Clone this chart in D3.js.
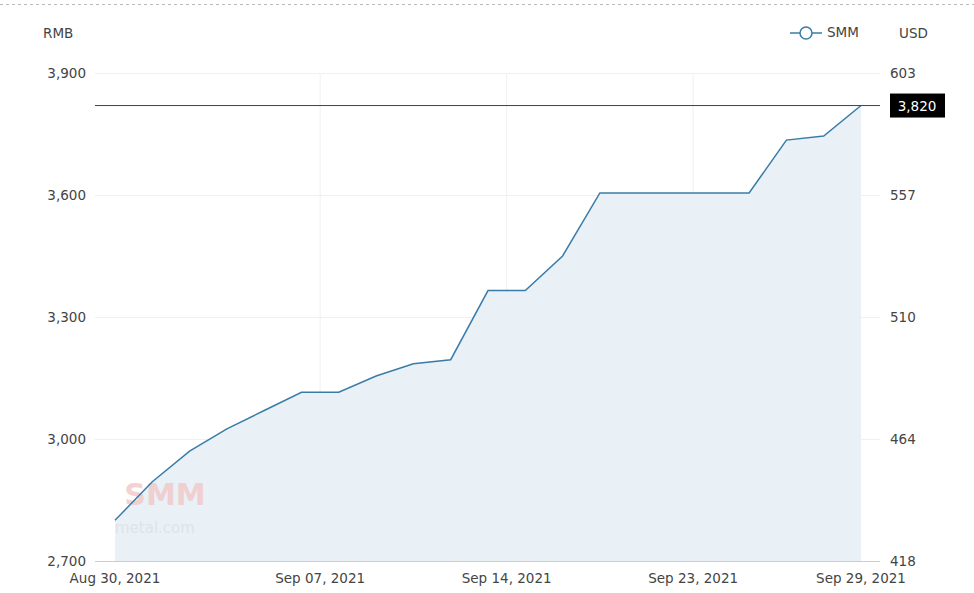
<!DOCTYPE html><html><head><meta charset="utf-8">
<script src="https://cdn.jsdelivr.net/npm/d3@7"></script>
<style>body{margin:0;background:#fff}text{font-family:"DejaVu Sans",sans-serif}</style></head><body>
<svg id="c" width="974" height="593"></svg>
<script>
const dates=["Aug 30","Aug 31","Sep 01","Sep 02","Sep 03","Sep 06","Sep 07","Sep 08","Sep 09","Sep 10","Sep 13","Sep 14","Sep 15","Sep 16","Sep 17","Sep 22","Sep 23","Sep 24","Sep 27","Sep 28","Sep 29"];
const values=[2800,2895,2970,3025,3070,3115,3115,3155,3185,3195,3365,3365,3450,3605,3605,3605,3605,3605,3735,3745,3820];
const xTickPos=[0,5.5,10.5,15.5,20];
const xTickLabels=["Aug 30, 2021","Sep 07, 2021","Sep 14, 2021","Sep 23, 2021","Sep 29, 2021"];
const leftTicks=[2700,3000,3300,3600,3900];
const rightTickLabels=["418","464","510","557","603"];
const lastValue=3820;
const svg=d3.select("#c");
const L=95,R=880,T=73,B=561;
const fs=13.5;
const x=d3.scaleLinear().domain([0,dates.length-1]).range([115,861]);
const y=d3.scaleLinear().domain([2700,3900]).range([B,T]);
svg.append("line").attr("x1",0).attr("x2",974).attr("y1",4.5).attr("y2",4.5).attr("stroke","#bbb").attr("stroke-dasharray","3,3");
svg.selectAll(".hg").data(leftTicks).join("line").attr("x1",L).attr("x2",R).attr("y1",d=>y(d)+.5).attr("y2",d=>y(d)+.5).attr("stroke","#f0f0f0");
svg.selectAll(".vg").data(xTickPos.slice(1,4)).join("line").attr("x1",d=>x(d)).attr("x2",d=>x(d)).attr("y1",T).attr("y2",B).attr("stroke","#f0f0f0");
svg.append("line").attr("x1",L).attr("x2",R).attr("y1",B+.5).attr("y2",B+.5).attr("stroke","#ccc");
const pts=values.map((v,i)=>[x(i),y(v)]);
svg.append("path").attr("d",d3.area().x(d=>d[0]).y0(B).y1(d=>d[1])(pts)).attr("fill","#e9f1f6");
svg.append("text").attr("x",x(0.25)).attr("y",y(2838)).attr("font-size",30).attr("font-weight","bold").attr("fill","#f2c4c4").attr("opacity",.75).text("SMM");
svg.append("text").attr("x",x(0)).attr("y",y(2770)).attr("font-size",15).attr("fill","#dde4ea").text("metal.com");
svg.append("path").attr("d",d3.line()(pts)).attr("fill","none").attr("stroke","#3a7ca8").attr("stroke-width",1.5);
svg.append("line").attr("x1",L).attr("x2",R).attr("y1",y(lastValue)).attr("y2",y(lastValue)).attr("stroke","#444").attr("stroke-width",1);
svg.append("rect").attr("x",890).attr("y",y(lastValue)-12).attr("width",55).attr("height",24).attr("fill","#000");
svg.append("text").attr("x",917).attr("y",y(lastValue)+5).attr("text-anchor","middle").attr("font-size",fs).attr("fill","#fff").text(d3.format(",")(lastValue));
svg.selectAll(".lt").data(leftTicks).join("text").attr("x",86).attr("y",d=>y(d)+5).attr("text-anchor","end").attr("font-size",fs).attr("fill","#444").text(d=>d3.format(",")(d));
svg.selectAll(".rt").data(leftTicks).join("text").attr("x",890).attr("y",d=>y(d)+5).attr("font-size",fs).attr("fill","#444").text((d,i)=>rightTickLabels[i]);
svg.selectAll(".xt").data(xTickPos).join("text").attr("x",d=>x(d)).attr("y",583).attr("text-anchor","middle").attr("font-size",fs).attr("fill","#444").text((d,i)=>xTickLabels[i]);
svg.append("text").attr("x",43).attr("y",38).attr("font-size",fs).attr("fill","#444").text("RMB");
svg.append("text").attr("x",899).attr("y",38).attr("font-size",fs).attr("fill","#444").text("USD");
svg.append("line").attr("x1",790).attr("x2",822).attr("y1",33).attr("y2",33).attr("stroke","#3a7ca8").attr("stroke-width",1.5);
svg.append("circle").attr("cx",806).attr("cy",33).attr("r",6).attr("fill","#fff").attr("stroke","#3a7ca8").attr("stroke-width",1.5);
svg.append("text").attr("x",827).attr("y",37).attr("font-size",fs).attr("fill","#444").text("SMM");
</script></body></html>
